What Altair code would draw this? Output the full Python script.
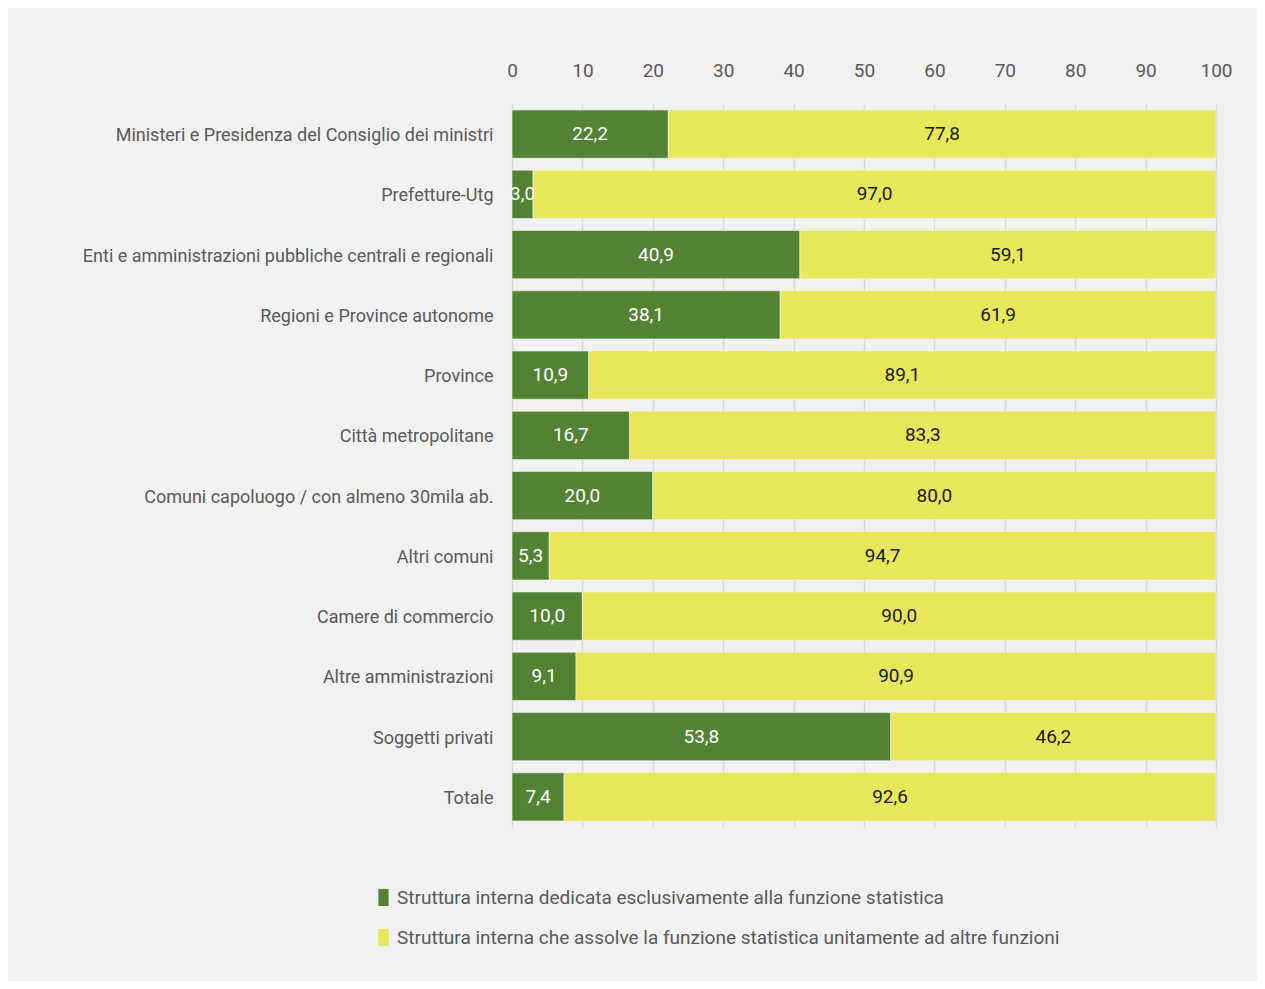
import altair as alt
import pandas as pd

categories = [
    "Ministeri e Presidenza del Consiglio dei ministri",
    "Prefetture-Utg",
    "Enti e amministrazioni pubbliche centrali e regionali",
    "Regioni e Province autonome",
    "Province",
    "Città metropolitane",
    "Comuni capoluogo / con almeno 30mila ab.",
    "Altri comuni",
    "Camere di commercio",
    "Altre amministrazioni",
    "Soggetti privati",
    "Totale",
]
dedicata = [22.2, 3.0, 40.9, 38.1, 10.9, 16.7, 20.0, 5.3, 10.0, 9.1, 53.8, 7.4]
unitamente = [77.8, 97.0, 59.1, 61.9, 89.1, 83.3, 80.0, 94.7, 90.0, 90.9, 46.2, 92.6]
series = [
    "Struttura interna dedicata esclusivamente alla funzione statistica",
    "Struttura interna che assolve la funzione statistica unitamente ad altre funzioni",
]
colors = ["#548235", "#e7e75a"]
text_colors = ["#ffffff", "#1a1a1a"]

rows = []
for i, c in enumerate(categories):
    for k, vals in enumerate([dedicata, unitamente]):
        v = vals[i]
        rows.append({
            "cat": c,
            "serie": series[k],
            "ord": k,
            "value": v,
            "label": f"{v:.1f}".replace(".", ","),
            "tcolor": text_colors[k],
        })
df = pd.DataFrame(rows)

FONT = "Roboto"
GREY = "#595959"
FS = 19

base = alt.Chart(df).transform_stack(
    stack="value", groupby=["cat"], as_=["x0", "x1"], sort=[alt.SortField("ord")]
).transform_calculate(mid="(datum.x0 + datum.x1) / 2")

y_enc = alt.Y(
    "cat:N",
    sort=categories,
    title=None,
    scale=alt.Scale(paddingInner=0.2, paddingOuter=0.1),
    axis=alt.Axis(
        domain=False, ticks=False, labelPadding=19, labelFont=FONT,
        labelFontSize=18, labelColor=GREY, labelLimit=500, labelOffset=2,
    ),
)

bars = base.mark_bar(stroke="#f2f2f2", strokeWidth=0.6).encode(
    x=alt.X(
        "x0:Q",
        scale=alt.Scale(domain=[0, 100], nice=False),
        title=None,
        axis=alt.Axis(
            orient="top", values=list(range(0, 101, 10)), domain=False,
            ticks=False, labelPadding=24, labelFont=FONT, labelFontSize=FS,
            labelColor=GREY, gridColor="#d9d9d9", gridWidth=1.5,
            labelFlush=False,
        ),
    ),
    x2="x1:Q",
    y=y_enc,
    color=alt.Color(
        "serie:N",
        scale=alt.Scale(domain=series, range=colors),
        title=None,
        legend=alt.Legend(
            orient="none", legendX=-138, legendY=784, direction="vertical",
            symbolType="M-0.6,-1H0.6V1H-0.6Z", symbolSize=289,
            symbolStrokeWidth=0, labelFont=FONT, labelFontSize=FS,
            labelColor=GREY, labelLimit=1000, rowPadding=20,
            symbolOffset=0, labelOffset=4,
        ),
    ),
)

texts = base.mark_text(font=FONT, fontSize=FS, baseline="middle", align="center").encode(
    x=alt.X("mid:Q"),
    y=alt.Y("cat:N", sort=categories),
    text="label:N",
    color=alt.Color("tcolor:N", scale=None),
)

chart = (
    alt.layer(bars, texts)
    .properties(
        width=704,
        height=723,
        background="#f1f1f1",
        padding={"left": 504, "top": 96, "right": 41, "bottom": 154},
        autosize=alt.AutoSizeParams(type="none"),
    )
    .configure_view(stroke=None)
)

chart.save("out.html", embed_options={"renderer": "svg", "actions": False})
